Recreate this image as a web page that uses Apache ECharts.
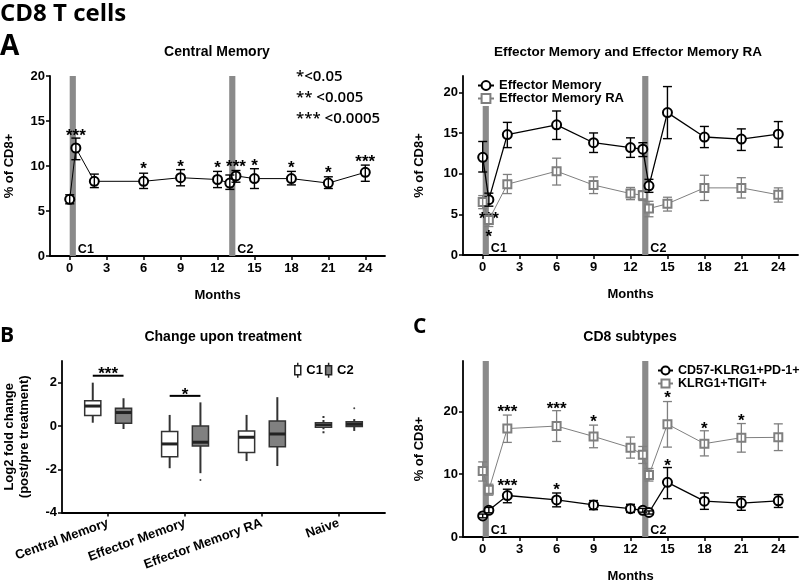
<!DOCTYPE html>
<html><head><meta charset="utf-8">
<script src="https://cdn.jsdelivr.net/npm/echarts@6/dist/echarts.min.js"></script>
<style>html,body{margin:0;padding:0;background:#fff}#c{width:800px;height:584px}</style>
</head><body><div id="c"></div>
<script>
// ---------- DATA ----------
const months = [0, 0.5, 2, 6, 9, 12, 13, 13.5, 15, 18, 21, 24];
const monthTicks = [0, 3, 6, 9, 12, 15, 18, 21, 24];

// Panel A left: Central Memory
const cmMean = [6.3, 12.0, 8.3, 8.3, 8.7, 8.5, 8.1, 8.9, 8.6, 8.6, 8.1, 9.3];
const cmLow  = [5.8, 10.7, 7.6, 7.5, 7.8, 7.6, 7.4, 8.2, 7.5, 7.9, 7.5, 8.3];
const cmHigh = [6.8, 13.1, 9.1, 9.2, 9.6, 9.4, 9.0, 9.5, 9.7, 9.4, 8.8, 10.1];
const cmStars = [[0.5, 13.8, '***'], [6, 10.1, '*'], [9, 10.4, '*'], [12, 10.2, '*'], [13.5, 10.4, '***'], [15, 10.5, '*'], [18, 10.2, '*'], [21, 9.7, '*'], [24, 10.9, '***']];

// Panel A right: Effector Memory / Effector Memory RA
const emMean = [12.0, 6.8, 14.8, 16.0, 13.8, 13.2, 13.0, 8.5, 17.5, 14.5, 14.25, 14.85];
const emLow  = [10.2, 6.0, 13.2, 14.2, 12.6, 12.0, 12.1, 7.7, 14.3, 13.2, 12.85, 13.25];
const emHigh = [13.95, 7.6, 16.3, 17.7, 15.0, 14.4, 13.8, 9.3, 20.7, 15.8, 15.5, 16.4];
const emraMean = [6.5, 4.3, 8.7, 10.3, 8.6, 7.55, 7.35, 5.7, 6.3, 8.25, 8.25, 7.4];
const emraLow  = [5.7, 3.5, 7.55, 8.6, 7.55, 6.8, 6.7, 4.7, 5.4, 6.7, 7.0, 6.5];
const emraHigh = [7.3, 5.1, 9.9, 11.9, 9.6, 8.3, 7.9, 6.6, 7.1, 9.8, 9.5, 8.25];
const emStars = [[0.5, 4.9, '***'], [0.5, 2.7, '*']];

// Panel C: CD8 subtypes
const cd57Mean = [3.35, 4.25, 6.6, 5.9, 5.1, 4.5, 4.25, 3.9, 8.7, 5.7, 5.4, 5.75];
const cd57Low  = [3.05, 3.85, 5.45, 4.8, 4.35, 3.9, 3.95, 3.65, 6.1, 4.4, 4.25, 4.7];
const cd57High = [3.65, 4.7, 7.6, 7.0, 5.8, 5.2, 4.55, 4.15, 11.05, 7.0, 6.4, 6.75];
const tigitMean = [10.5, 7.5, 17.25, 17.65, 16.0, 14.2, 13.1, 9.85, 17.95, 14.85, 15.8, 15.85];
const tigitLow  = [8.9, 6.65, 15.05, 15.2, 14.2, 12.55, 11.7, 8.9, 14.3, 12.9, 13.5, 13.75];
const tigitHigh = [11.95, 8.4, 19.4, 20.1, 17.8, 15.9, 14.4, 10.9, 21.55, 16.9, 18.05, 18.0];
const tigitStars = [[2, 20.5, '***'], [6, 21.0, '***'], [9, 19.0, '*'], [15, 22.8, '*'], [18, 17.9, '*'], [21, 19.2, '*']];
const cd57Stars = [[2, 8.8, '***'], [6, 8.1, '*'], [15, 11.9, '*']];

// Panel B: Change upon treatment  [min, Q1, median, Q3, max]
const bCats = ['Central Memory', 'Effector Memory', 'Effector Memory RA', 'Naive'];
const c1Box = [[0.15, 0.48, 0.92, 1.17, 2.0], [-1.95, -1.42, -0.83, -0.26, 0.51], [-1.62, -1.22, -0.52, -0.23, 0.51], [-0.34, -0.06, 0.05, 0.15, 0.46]];
const c2Box = [[-0.14, 0.12, 0.62, 0.82, 1.28], [-2.18, -0.92, -0.75, 0.0, 1.09], [-1.85, -0.96, -0.37, 0.23, 1.33], [-0.23, -0.03, 0.08, 0.2, 0.32]];
const c2Outliers = [[2, -2.5], [4, 0.82]];
const bSig = [[1, 2.32, '***'], [2, 1.39, '*']];
const bTicks = [-4, -2, 0, 2];

// ---------- HELPERS ----------
const FF = '"Liberation Sans", Arial, sans-serif';
const tickFont = { fontFamily: FF, fontWeight: 'bold', fontSize: 13, color: '#000' };
const nameFont = { fontFamily: FF, fontWeight: 'bold', fontSize: 13, color: '#000' };
const GREY = '#7f7f7f';
const BAR = '#8a8a8a';
const AXW = 1.8;

function xMonth(gi, gap) {
  return {
    type: 'value', gridIndex: gi, min: -1.6, max: 25.6,
    name: 'Months', nameLocation: 'middle', nameGap: gap, nameTextStyle: nameFont,
    axisLine: { onZero: false, lineStyle: { color: '#000', width: AXW } },
    axisTick: { length: 4, customValues: monthTicks, lineStyle: { color: '#000', width: 1.5 } },
    axisLabel: Object.assign({ customValues: monthTicks, margin: 6 }, tickFont),
    splitLine: { show: false }
  };
}
function yVal(gi, max, ticks, gap, name) {
  return {
    type: 'value', gridIndex: gi, min: ticks[0] < 0 ? ticks[0] : 0, max: max,
    name: name, nameLocation: 'middle', nameGap: gap, nameTextStyle: Object.assign({ lineHeight: 15 }, nameFont),
    axisLine: { show: true, onZero: false, lineStyle: { color: '#000', width: AXW } },
    axisTick: { show: true, length: 4, customValues: ticks, lineStyle: { color: '#000', width: 1.5 } },
    axisLabel: Object.assign({ customValues: ticks, margin: 5 }, tickFont),
    splitLine: { show: false }
  };
}
function pairs(xs, ys) { return xs.map((x, i) => [x, ys[i]]); }
function triples(xs, lo, hi) { return xs.map((x, i) => [x, lo[i], hi[i]]); }

function errRender(color, lw) {
  return function (params, api) {
    const x = api.value(0);
    const lo = api.coord([x, api.value(1)]);
    const hi = api.coord([x, api.value(2)]);
    const cw = 4.5;
    const st = { stroke: color, lineWidth: lw };
    return {
      type: 'group', children: [
        { type: 'line', shape: { x1: lo[0], y1: lo[1], x2: hi[0], y2: hi[1] }, style: st },
        { type: 'line', shape: { x1: lo[0] - cw, y1: lo[1], x2: lo[0] + cw, y2: lo[1] }, style: st },
        { type: 'line', shape: { x1: hi[0] - cw, y1: hi[1], x2: hi[0] + cw, y2: hi[1] }, style: st }
      ]
    };
  };
}
function starRender(arr) {
  return function (params, api) {
    const p = api.coord([api.value(0), api.value(1)]);
    return {
      type: 'text', x: p[0], y: p[1] + 4.5,
      style: { text: arr[params.dataIndex][2], fill: '#000', font: 'bold 17px ' + FF, align: 'center', verticalAlign: 'middle' }
    };
  };
}
function errSeries(gi, lo, hi, color, lw) {
  return { type: 'custom', name: 'err', xAxisIndex: gi, yAxisIndex: gi, z: 4, silent: true,
    renderItem: errRender(color, lw), encode: { x: 0, y: [1, 2] }, data: triples(months, lo, hi) };
}
function starSeries(gi, arr) {
  return { type: 'custom', name: 'stars', xAxisIndex: gi, yAxisIndex: gi, z: 2, silent: true,
    renderItem: starRender(arr), encode: { x: 0, y: 1 }, data: arr.map(s => [s[0], s[1]]) };
}
const barLabel = { show: true, position: ['100%', '100%'], offset: [2, -13], color: '#000', fontFamily: FF, fontWeight: 'bold', fontSize: 12.5 };
function bars(top1, top2) {
  return {
    silent: true, itemStyle: { color: BAR }, label: barLabel,
    data: [
      [{ name: 'C1', xAxis: 0, yAxis: 0 }, { xAxis: 0.5, yAxis: top1 }],
      [{ name: 'C2', xAxis: 12.95, yAxis: 0 }, { xAxis: 13.45, yAxis: top2 }]
    ]
  };
}
function lineSeries(gi, name, ys, color, lw, symbol, size, mark) {
  const s = {
    type: 'line', name: name, xAxisIndex: gi, yAxisIndex: gi, z: 3,
    data: pairs(months, ys), symbol: symbol, symbolSize: size, showSymbol: true,
    lineStyle: { color: color, width: lw }, itemStyle: { color: color, borderColor: color, borderWidth: 1.3 },
    emphasis: { disabled: true }
  };
  if (mark) s.markArea = mark;
  return s;
}

// Panel B renderers
function boxRender(fill, dashedIdx) {
  return function (params, api) {
    const x = api.value(0);
    const p = [1, 2, 3, 4, 5].map(k => api.coord([x, api.value(k)]));
    const hw = api.size([0.21, 0])[0] / 2;
    const cx = p[0][0];
    const dash = params.dataIndex === dashedIdx ? [2, 2] : null;
    const wst = { stroke: '#333', lineWidth: 2, lineDash: dash };
    return {
      type: 'group', children: [
        { type: 'line', shape: { x1: cx, y1: p[4][1], x2: cx, y2: p[3][1] }, style: wst },
        { type: 'line', shape: { x1: cx, y1: p[1][1], x2: cx, y2: p[0][1] }, style: wst },
        { type: 'rect', shape: { x: cx - hw, y: p[3][1], width: 2 * hw, height: p[1][1] - p[3][1] }, style: { fill: fill, stroke: '#333', lineWidth: 1.5 } },
        { type: 'line', shape: { x1: cx - hw, y1: p[2][1], x2: cx + hw, y2: p[2][1] }, style: { stroke: '#222', lineWidth: 3 } }
      ]
    };
  };
}
const boxIcon = 'path://M3,0L3,3M0,3L6,3L6,12L0,12ZM3,12L3,15';

// ---------- CHART ----------
const chart = echarts.init(document.getElementById('c'), null, { renderer: 'canvas' });
const option = {
  animation: false,
  backgroundColor: '#fff',
  textStyle: { fontFamily: FF },
  grid: [
    { left: 50, top: 76, width: 335, height: 180 },
    { left: 463, top: 76, width: 335, height: 179 },
    { left: 62, top: 361, width: 323, height: 151.6 },
    { left: 463, top: 361, width: 335, height: 179 }
  ],
  xAxis: [
    xMonth(0, 33), xMonth(1, 33),
    {
      type: 'value', gridIndex: 2, min: 0.4, max: 4.6,
      axisLine: { onZero: false, lineStyle: { color: '#000', width: AXW } },
      axisTick: { length: 4, customValues: [1, 2, 3, 4], lineStyle: { color: '#000', width: 1.5 } },
      axisLabel: Object.assign({ customValues: [1, 2, 3, 4], rotate: 20, margin: 10, formatter: v => bCats[Math.round(v) - 1] || '' }, tickFont),
      splitLine: { show: false }
    },
    xMonth(3, 33)
  ],
  yAxis: [
    yVal(0, 20, [0, 5, 10, 15, 20], 33, '% of CD8+'),
    yVal(1, 22, [0, 5, 10, 15, 20], 36, '% of CD8+'),
    yVal(2, 3, bTicks, 30, 'Log2 fold change\n(post/pre treatment)'),
    yVal(3, 28, [0, 10, 20], 36, '% of CD8+')
  ],
  legend: [
    {
      orient: 'vertical', left: 477, top: 79, itemWidth: 16, itemHeight: 11, itemGap: 0, padding: 0,
      textStyle: Object.assign({ lineHeight: 13 }, nameFont), selectedMode: false,
      data: ['Effector Memory', 'Effector Memory RA']
    },
    {
      orient: 'vertical', left: 657, top: 364, itemWidth: 15, itemHeight: 10, itemGap: 0, padding: 0,
      textStyle: Object.assign({ lineHeight: 12 }, nameFont, { fontSize: 12.5 }), selectedMode: false,
      data: ['CD57-KLRG1+PD-1+', 'KLRG1+TIGIT+']
    },
    {
      orient: 'horizontal', left: 294, top: 362, itemWidth: 7, itemHeight: 15, itemGap: 2, padding: 0,
      textStyle: nameFont, selectedMode: false,
      data: [
        { name: 'C1', icon: boxIcon, itemStyle: { color: '#fff', borderColor: '#222', borderWidth: 1.5 } },
        { name: 'C2', icon: boxIcon, itemStyle: { color: '#808080', borderColor: '#222', borderWidth: 1.5 } }
      ]
    }
  ],
  series: [
    // Panel A left
    lineSeries(0, 'Central Memory', cmMean, '#000', 1, 'emptyCircle', 9, bars(20, 20)),
    errSeries(0, cmLow, cmHigh, '#000', 1.4),
    starSeries(0, cmStars),
    // Panel A right
    lineSeries(1, 'Effector Memory', emMean, '#000', 1.3, 'emptyCircle', 9, bars(18.3, 22)),
    lineSeries(1, 'Effector Memory RA', emraMean, GREY, 1, 'emptyRect', 8),
    errSeries(1, emLow, emHigh, '#000', 1.4),
    errSeries(1, emraLow, emraHigh, GREY, 1.3),
    starSeries(1, emStars),
    // Panel C
    lineSeries(3, 'CD57-KLRG1+PD-1+', cd57Mean, '#000', 1.3, 'emptyCircle', 9, bars(28, 28)),
    lineSeries(3, 'KLRG1+TIGIT+', tigitMean, GREY, 1, 'emptyRect', 8),
    errSeries(3, cd57Low, cd57High, '#000', 1.4),
    errSeries(3, tigitLow, tigitHigh, GREY, 1.3),
    starSeries(3, cd57Stars),
    starSeries(3, tigitStars),
    // Panel B
    {
      type: 'custom', name: 'C1', xAxisIndex: 2, yAxisIndex: 2, z: 3, silent: true,
      itemStyle: { color: '#fff', borderColor: '#222', borderWidth: 1.5 },
      renderItem: boxRender('#fff', 3), encode: { x: 0, y: [1, 2, 3, 4, 5] },
      data: c1Box.map((b, i) => [i + 1 - 0.2].concat(b))
    },
    {
      type: 'custom', name: 'C2', xAxisIndex: 2, yAxisIndex: 2, z: 3, silent: true,
      itemStyle: { color: '#808080', borderColor: '#222', borderWidth: 1.5 },
      renderItem: boxRender('#808080', -1), encode: { x: 0, y: [1, 2, 3, 4, 5] },
      data: c2Box.map((b, i) => [i + 1 + 0.2].concat(b))
    },
    {
      type: 'custom', name: 'outliers', xAxisIndex: 2, yAxisIndex: 2, z: 3, silent: true,
      renderItem: function (params, api) {
        const p = api.coord([api.value(0), api.value(1)]);
        return { type: 'circle', shape: { cx: p[0], cy: p[1], r: 1 }, style: { fill: '#444' } };
      },
      encode: { x: 0, y: 1 }, data: c2Outliers.map(o => [o[0] + 0.2, o[1]])
    },
    {
      type: 'custom', name: 'sig', xAxisIndex: 2, yAxisIndex: 2, z: 3, silent: true,
      renderItem: function (params, api) {
        const c = api.value(0), y = api.value(1);
        const a = api.coord([c - 0.2, y]), b = api.coord([c + 0.2, y]);
        return {
          type: 'group', children: [
            { type: 'line', shape: { x1: a[0], y1: a[1], x2: b[0], y2: b[1] }, style: { stroke: '#000', lineWidth: 2 } },
            { type: 'text', x: (a[0] + b[0]) / 2, y: a[1] - 1, style: { text: bSig[params.dataIndex][2], fill: '#000', font: 'bold 17px ' + FF, align: 'center', verticalAlign: 'middle' } }
          ]
        };
      },
      encode: { x: 0, y: 1 }, data: bSig.map(s => [s[0], s[1]])
    }
  ],
  graphic: [
    { type: 'text', x: 0, y: 14, style: { text: 'CD8 T cells', font: 'bold 24px "Open Sans"', fill: '#000', align: 'left', verticalAlign: 'middle' } },
    { type: 'text', x: 0, y: 47, style: { text: 'A', font: 'bold 28px "Open Sans"', fill: '#000', align: 'left', verticalAlign: 'middle' } },
    { type: 'text', x: 0, y: 336, style: { text: 'B', font: 'bold 21px "Open Sans"', fill: '#000', align: 'left', verticalAlign: 'middle' } },
    { type: 'text', x: 413, y: 327, style: { text: 'C', font: 'bold 21px "Open Sans"', fill: '#000', align: 'left', verticalAlign: 'middle' } },
    { type: 'text', x: 217, y: 52, style: { text: 'Central Memory', font: 'bold 14px ' + FF, fill: '#000', align: 'center', verticalAlign: 'middle' } },
    { type: 'text', x: 628, y: 52, style: { text: 'Effector Memory and Effector Memory RA', font: 'bold 13.5px ' + FF, fill: '#000', align: 'center', verticalAlign: 'middle' } },
    { type: 'text', x: 223, y: 337, style: { text: 'Change upon treatment', font: 'bold 14px ' + FF, fill: '#000', align: 'center', verticalAlign: 'middle' } },
    { type: 'text', x: 630, y: 337, style: { text: 'CD8 subtypes', font: 'bold 14px ' + FF, fill: '#000', align: 'center', verticalAlign: 'middle' } },
    { type: 'text', x: 296, y: 76.5, style: { text: '*<0.05', font: '600 15px "Open Sans"', fill: '#000', align: 'left', verticalAlign: 'middle' } },
    { type: 'text', x: 296, y: 97.5, style: { text: '** <0.005', font: '600 15px "Open Sans"', fill: '#000', align: 'left', verticalAlign: 'middle' } },
    { type: 'text', x: 296, y: 118.5, style: { text: '*** <0.0005', font: '600 15px "Open Sans"', fill: '#000', align: 'left', verticalAlign: 'middle' } }
  ]
};
chart.setOption(option);
</script>
</body></html>
